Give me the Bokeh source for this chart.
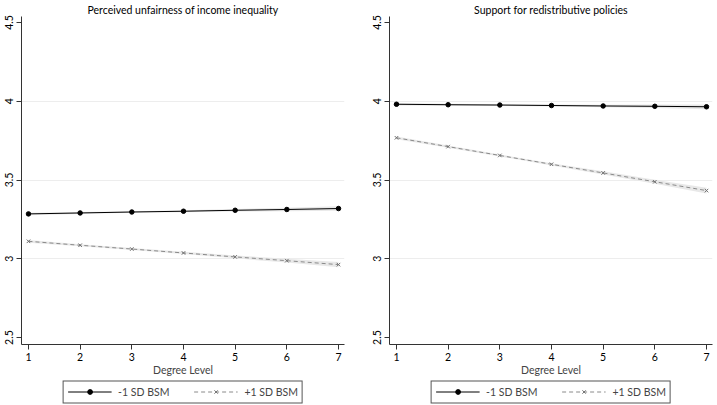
from bokeh.plotting import figure
from bokeh.layouts import row, column
from bokeh.models import Legend, LegendItem, FixedTicker, CustomJSTickFormatter
from bokeh.embed import file_html
from bokeh.resources import INLINE

FONT = "Lato"

degree = [1, 2, 3, 4, 5, 6, 7]
x_ticks = [1, 2, 3, 4, 5, 6, 7]
y_ticks = [2.5, 3, 3.5, 4, 4.5]
grid_ticks = [3, 3.5, 4]

titles = ["Perceived unfairness of income inequality", "Support for redistributive policies"]
series_labels = ["-1 SD BSM", "+1 SD BSM"]
x_label = "Degree Level"

# Perceived unfairness
unfair_low = [3.285, 3.291, 3.297, 3.302, 3.308, 3.313, 3.319]
unfair_low_hw = [0.008, 0.006, 0.005, 0.006, 0.008, 0.011, 0.014]
unfair_high = [3.111, 3.086, 3.062, 3.037, 3.012, 2.988, 2.963]
unfair_high_hw = [0.009, 0.007, 0.006, 0.007, 0.009, 0.012, 0.016]

# Support for redistribution
redis_low = [3.981, 3.978, 3.976, 3.973, 3.970, 3.968, 3.965]
redis_low_hw = [0.008, 0.006, 0.005, 0.006, 0.008, 0.011, 0.015]
redis_high = [3.768, 3.712, 3.656, 3.600, 3.545, 3.489, 3.433]
redis_high_hw = [0.009, 0.007, 0.006, 0.007, 0.010, 0.013, 0.018]

LOW_STYLE = dict(line_color="black", line_width=1.0)
LOW_MARK = dict(marker="circle", size=4.5, fill_color="black", line_color="black")
HIGH_STYLE = dict(line_color="#8a8a8a", line_width=1.0, line_dash="4 3")
HIGH_MARK = dict(marker="x", size=5, line_color="#707070", line_width=1)

MAIN_H = 379
LEG_H = 25


def panel(title, lo, lo_hw, hi, hi_hw, width, bl, br):
    p = figure(width=width, height=MAIN_H, x_range=(0.865, 7.116), y_range=(2.456, 4.538),
               output_backend="svg", toolbar_location=None, title=title,
               min_border_left=bl, min_border_right=br, min_border_top=16, min_border_bottom=35)
    p.outline_line_color = None
    p.title.align = "center"
    p.title.text_font = FONT
    p.title.text_font_style = "normal"
    p.title.text_font_size = "10.5px"
    p.title.text_color = "black"
    p.title.standoff = 2

    p.xgrid.visible = False
    p.ygrid.ticker = FixedTicker(ticks=grid_ticks)
    p.ygrid.grid_line_color = "#ededed"
    p.ygrid.grid_line_width = 1

    for ax in (p.xaxis[0], p.yaxis[0]):
        ax.axis_line_color = "#333333"
        ax.major_tick_line_color = "#333333"
        ax.minor_tick_line_color = None
        ax.major_tick_out = 5
        ax.major_tick_in = 0
        ax.major_label_text_font = FONT
        ax.major_label_text_font_size = "10.5px"
        ax.major_label_text_color = "black"
        ax.major_label_standoff = 3
    p.xaxis.ticker = FixedTicker(ticks=x_ticks)
    p.yaxis.ticker = FixedTicker(ticks=y_ticks)
    p.yaxis.formatter = CustomJSTickFormatter(code="return tick.toString();")
    p.yaxis.major_label_orientation = "parallel"
    p.xaxis.axis_label = x_label
    p.xaxis.axis_label_text_font = FONT
    p.xaxis.axis_label_text_font_style = "normal"
    p.xaxis.axis_label_text_font_size = "10.5px"
    p.xaxis.axis_label_standoff = 0

    lo_l = [v - h for v, h in zip(lo, lo_hw)]
    lo_u = [v + h for v, h in zip(lo, lo_hw)]
    hi_l = [v - h for v, h in zip(hi, hi_hw)]
    hi_u = [v + h for v, h in zip(hi, hi_hw)]
    p.varea(x=degree, y1=lo_l, y2=lo_u, fill_color="#e6e6e6", fill_alpha=0.9)
    p.varea(x=degree, y1=hi_l, y2=hi_u, fill_color="#e6e6e6", fill_alpha=0.9)

    p.line(degree, lo, **LOW_STYLE)
    p.scatter(degree, lo, **LOW_MARK)
    p.line(degree, hi, **HIGH_STYLE)
    p.scatter(degree, hi, **HIGH_MARK)
    return p


def legend_fig(width, bl, br, lo, hi):
    # legend-only strip: the series are plotted outside its visible range
    f = figure(width=width, height=LEG_H, x_range=(-3, -2), y_range=(-3, -2),
               output_backend="svg", toolbar_location=None,
               x_axis_type=None, y_axis_type=None,
               min_border_left=bl, min_border_right=br, min_border_top=0, min_border_bottom=0)
    f.outline_line_color = None
    f.xgrid.visible = False
    f.ygrid.visible = False
    l1 = f.line(degree, lo, **LOW_STYLE)
    s1 = f.scatter(degree, lo, **LOW_MARK)
    l2 = f.line(degree, hi, **HIGH_STYLE)
    s2 = f.scatter(degree, hi, **HIGH_MARK)
    leg = Legend(items=[LegendItem(label=series_labels[0], renderers=[l1, s1]),
                        LegendItem(label=series_labels[1], renderers=[l2, s2])],
                 orientation="horizontal", location="center",
                 border_line_color="#555555", border_line_width=1, border_line_alpha=1,
                 label_text_font=FONT, label_text_font_size="10.5px",
                 glyph_width=44, glyph_height=12, spacing=24, padding=4,
                 margin=0, label_standoff=7, background_fill_color="white",
                 background_fill_alpha=1, label_height=13)
    f.add_layout(leg, "center")
    return f


W1, BL1, BR1 = 357, 21, 13
W2, BL2, BR2 = 359, 32, 4

p1 = panel(titles[0], unfair_low, unfair_low_hw, unfair_high, unfair_high_hw, W1, BL1, BR1)
p2 = panel(titles[1], redis_low, redis_low_hw, redis_high, redis_high_hw, W2, BL2, BR2)
g1 = legend_fig(W1, BL1, BR1, unfair_low, unfair_high)
g2 = legend_fig(W2, BL2, BR2, redis_low, redis_high)

layout = column(row(p1, p2, spacing=0), row(g1, g2, spacing=0), spacing=0)
open("out.html", "w").write(file_html(layout, INLINE))
